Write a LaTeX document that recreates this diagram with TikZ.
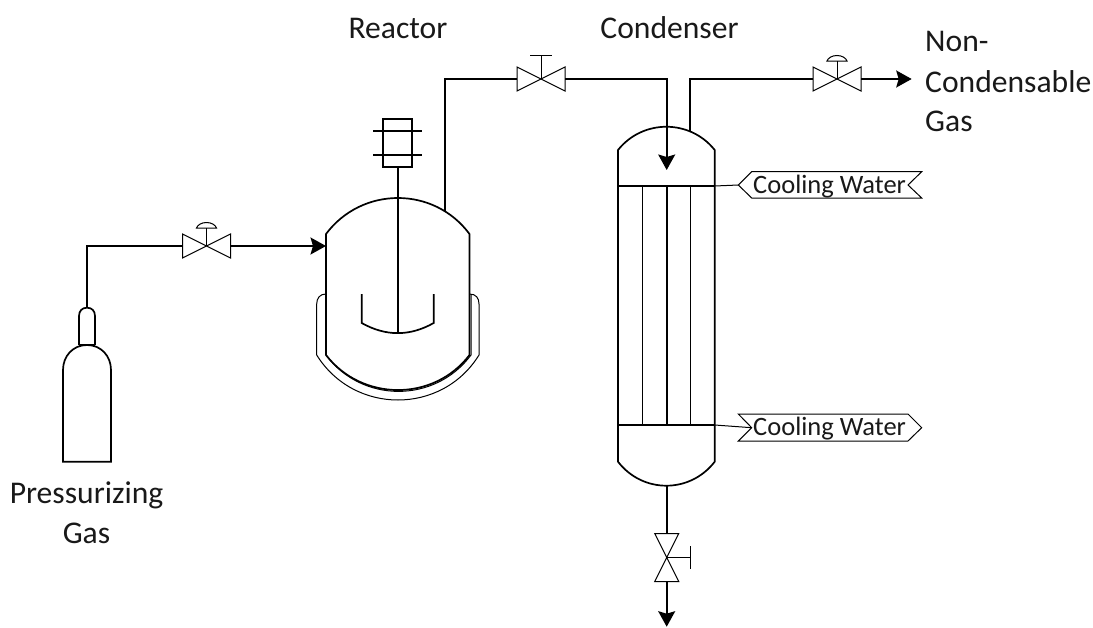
\documentclass[tikz,border=0pt]{standalone}
\usepackage{fontspec}
\setmainfont{Carlito}
\usetikzlibrary{arrows.meta}
\tikzset{
  pipe/.style={line width=1.7pt,draw=black,line join=miter},
  flow/.style={pipe,-{Stealth[length=15.5pt,width=17pt,inset=2.5pt]}},
  thin line/.style={line width=1pt,draw=black},
  vessel/.style={line width=1.7pt,draw=black,line join=miter},
  label/.style={font=\fontsize{31.6}{36}\selectfont,inner sep=0pt,text=black!90},
  taglabel/.style={font=\fontsize{26.5}{30}\selectfont,inner sep=0pt,text=black!90},
  hvalve/.pic={
    \draw[thin line] (-24,-12) -- (24,12) -- (24,-12) -- (-24,12) -- cycle;
    \coordinate (-w) at (-24,0);
    \coordinate (-e) at (24,0);
  },
  vvalve/.pic={
    \draw[thin line] (-12,-24) -- (12,-24) -- (-12,24) -- (12,24) -- cycle;
    \coordinate (-n) at (0,-24);
    \coordinate (-s) at (0,24);
  },
  dome/.pic={
    \draw[thin line] (0,0) -- (0,-18);
    \draw[thin line] (-10,-18) .. controls (-9,-21) and (-5,-23.5) .. (0,-23.5)
       .. controls (5,-23.5) and (9,-21) .. (10,-18) -- cycle;
  },
  tee/.pic={
    \draw[thin line] (0,0) -- (0,-24);
    \draw[thin line] (-11,-24) -- (11,-24);
  }
}
\begin{document}
\begin{tikzpicture}[x=1pt,y=-1pt]
\useasboundingbox (0,0) rectangle (1093,627);
\fill[white] (0,0) rectangle (1093,627);

% ---------- gas cylinder
\coordinate (cylneck) at (87,307.7);
\draw[vessel] (63,461.7) -- (63,370) .. controls (63,356) and (73,345) .. (87,345)
   .. controls (101,345) and (111,356) .. (111,370) -- (111,461.7) -- cycle;
\draw[vessel] (79,345) -- (79,316) .. controls (79,311) and (82,307.7) .. (87,307.7)
   .. controls (92,307.7) and (95,311) .. (95,316) -- (95,345);
\draw[line width=2pt] (79,345) -- (95,345);

% ---------- valves
\pic (vgas) at (206.5,246) {hvalve};
\pic at (206.5,246) {dome};
\pic (vtop) at (541,79) {hvalve};
\pic at (541,79) {tee};
\pic (vnc) at (837,79) {hvalve};
\pic at (837,79) {dome};
\pic (vdr) at (666.7,557.5) {vvalve};
\draw[thin line] (666.7,557.5) -- (690.3,557.5);
\draw[thin line] (690.3,546) -- (690.3,569);

% ---------- reactor
\coordinate (rwest) at (326,246);
\coordinate (rnozzle) at (445,211);
\draw[vessel] (326,234) .. controls (362,186) and (434,186) .. (469.5,234)
   -- (469.5,355) .. controls (434,401.7) and (362,401.7) .. (326,355) -- cycle;
% jacket
\draw[line width=1pt] (326,294) .. controls (320,294) and (316.7,298) .. (316.7,304)
   -- (316.7,355) .. controls (354,415) and (442,415) .. (479,355)
   -- (479,304) .. controls (479,298) and (476,294) .. (469.5,294);
\draw[line width=1pt] (471,294) -- (471,355) .. controls (435,403.5) and (362,403.5) .. (326,355);
% agitator
\draw[vessel] (383.3,119) rectangle (412.3,167);
\draw[vessel] (373,131) -- (422,131);
\draw[vessel] (373,155) -- (422,155);
\draw[vessel] (397.8,167) -- (397.8,333);
\draw[vessel] (361.7,294) -- (361.7,323) .. controls (385.7,336.5) and (409.7,336.5) .. (433.7,323) -- (433.7,294);

% ---------- condenser
\coordinate (cin) at (666.7,79);
\coordinate (cout) at (690,131);
\coordinate (ctop) at (666.7,170);
\coordinate (cdrain) at (666.7,485.7);
\draw[vessel] (618,150) .. controls (642.7,119) and (690,119) .. (714.7,150)
   -- (714.7,461.7) .. controls (690,493.7) and (642.7,493.7) .. (618,461.7) -- cycle;
\draw[vessel] (618,186) -- (714.7,186);
\draw[vessel] (618,425) -- (714.7,425);
\foreach \tx in {642.5,666.7,690.5}{
  \draw[vessel] (\tx,186) -- (\tx,425);
}
\coordinate (cwtop) at (714.7,186);
\coordinate (cwbot) at (714.7,425);

% ---------- cooling water tags
\coordinate (tagA) at (738.3,185);
\coordinate (tagB) at (751.7,427.7);
\draw[thin line] (tagA) -- (751.7,171.7) -- (921.7,171.7) -- (908,185) -- (921.7,198) -- (751.7,198) -- cycle;
\draw[thin line] (738.3,414) -- (tagB) -- (738.3,441) -- (908,441) -- (921.7,427.7) -- (908,414) -- cycle;
\node[taglabel,anchor=west] (cwin) at (753,186.5) {Cooling Water};
\node[taglabel,anchor=west] (cwout) at (753,428.5) {Cooling Water};

% ---------- pipes
\coordinate (bgas) at (87,246);
\coordinate (b1) at (445,79);
\coordinate (b2) at (690,79);
\coordinate (ncend) at (911.7,79);
\coordinate (drend) at (666.7,626.7);
\draw[pipe] (cylneck) -- (bgas) -- (vgas-w);
\draw[flow] (vgas-e) -- (rwest);
\draw[pipe] (rnozzle) -- (b1) -- (vtop-w);
\draw[flow] (vtop-e) -- (cin) -- (ctop);
\draw[pipe] (cout) -- (b2) -- (vnc-w);
\draw[flow] (vnc-e) -- (ncend);
\draw[pipe] (cdrain) -- (vdr-n);
\draw[flow] (vdr-s) -- (drend);
\draw[line width=1pt] (cwtop) -- (tagA);
\draw[line width=1pt] (cwbot) -- (tagB);

% ---------- labels
\node[label] (lreactor) at (398,28) {Reactor};
\node[label] (lcond) at (669.5,28) {Condenser};
\node[label,anchor=west] (lnon) at (925,41) {Non-};
\node[label,anchor=west] (lcnd) at (925,82) {Condensable};
\node[label,anchor=west] (lgas) at (925,121) {Gas};
\node[label] (lpress) at (86.5,495) {Pressurizing};
\node[label] (lpgas) at (86.5,533) {Gas};
\end{tikzpicture}
\end{document}
